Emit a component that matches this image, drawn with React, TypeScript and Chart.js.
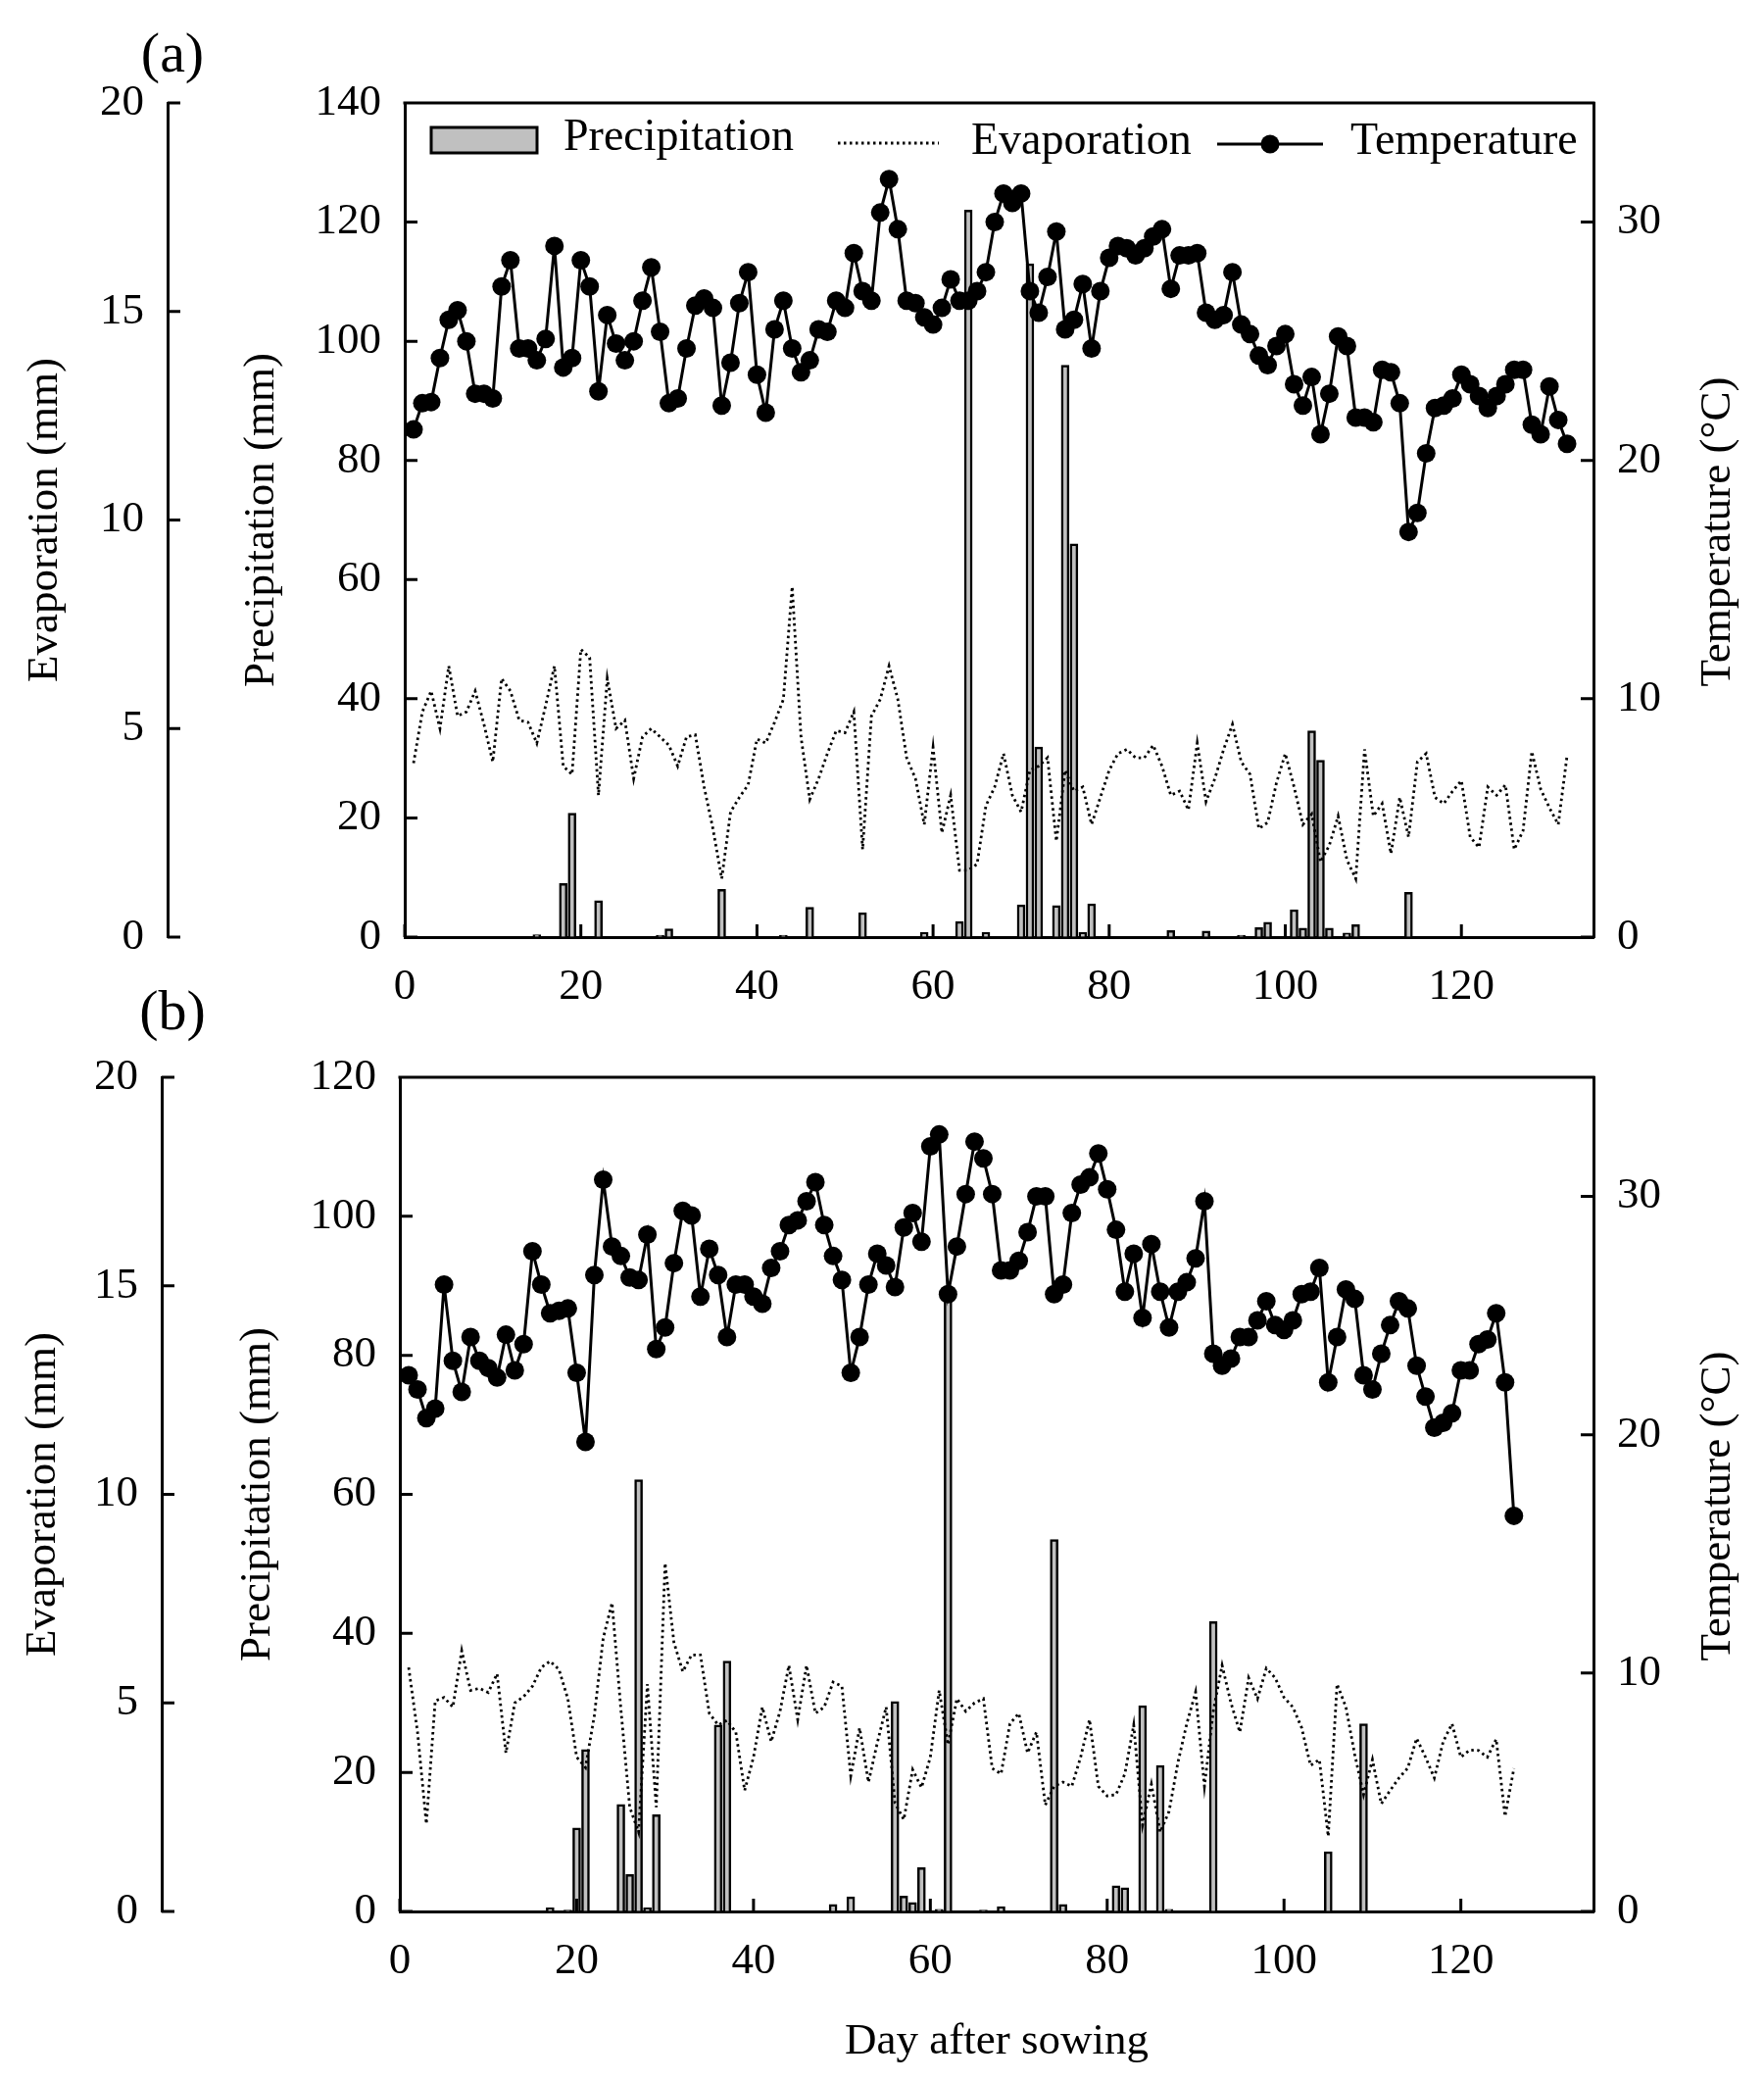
import { useEffect, useRef } from 'react';
import { Chart, registerables } from 'chart.js';

Chart.register(...registerables);

const SERIF = '"Liberation Serif", "Times New Roman", serif';

// ---- panel (a) ----
const tempA = [
  21.3, 22.4, 22.45, 24.3, 25.9, 26.3, 25.0, 22.8, 22.8, 22.6,
  27.3, 28.4, 24.7, 24.7, 24.2, 25.1, 29.0, 23.9, 24.3, 28.4,
  27.3, 22.9, 26.1, 24.9, 24.2, 25.0, 26.7, 28.1, 25.4, 22.4,
  22.6, 24.7, 26.5, 26.8, 26.4, 22.3, 24.1, 26.6, 27.9, 23.6,
  22.0, 25.5, 26.7, 24.7, 23.7, 24.2, 25.5, 25.4, 26.7, 26.4,
  28.7, 27.1, 26.7, 30.4, 31.8, 29.7, 26.7, 26.6, 26.0, 25.7,
  26.4, 27.6, 26.7, 26.7, 27.1, 27.9, 30.0, 31.2, 30.8, 31.2,
  27.1, 26.2, 27.7, 29.6, 25.5, 25.9, 27.4, 24.7, 27.1, 28.5,
  29.0, 28.9, 28.6, 28.9, 29.4, 29.7, 27.2, 28.6, 28.6, 28.7,
  26.2, 25.9, 26.1, 27.9, 25.7, 25.3, 24.4, 24.0, 24.8, 25.3,
  23.2, 22.3, 23.5, 21.1, 22.8, 25.2, 24.8, 21.8, 21.8, 21.6,
  23.8, 23.7, 22.4, 17.0, 17.8, 20.3, 22.2, 22.3, 22.6, 23.6,
  23.2, 22.7, 22.2, 22.7, 23.2, 23.8, 23.8, 21.5, 21.1, 23.1,
  21.7, 20.7,
];
const evapA = [
  4.17, 5.4, 5.9, 5.0, 6.5, 5.3, 5.4, 5.9, 5.1, 4.2,
  6.2, 5.9, 5.2, 5.15, 4.65, 5.55, 6.5, 4.1, 3.9, 6.9,
  6.7, 3.4, 6.2, 5.0, 5.2, 3.8, 4.8, 5.0, 4.8, 4.6,
  4.1, 4.8, 4.85, 3.6, 2.6, 1.4, 3.0, 3.35, 3.65, 4.75,
  4.65, 5.15, 5.7, 8.4, 4.8, 3.3, 3.8, 4.4, 4.95, 4.9,
  5.4, 2.1, 5.3, 5.7, 6.5, 5.7, 4.3, 3.8, 2.7, 4.55,
  2.5, 3.4, 1.6, 1.6, 1.75, 3.15, 3.6, 4.4, 3.4, 3.0,
  4.0, 4.1, 4.3, 2.3, 4.0, 3.5, 3.6, 2.7, 3.35, 4.0,
  4.4, 4.5, 4.3, 4.3, 4.6, 4.1, 3.4, 3.5, 3.05, 4.65,
  3.25, 3.8, 4.5, 5.1, 4.2, 3.9, 2.6, 2.75, 3.7, 4.4,
  3.6, 2.7, 2.95, 1.8, 2.2, 2.9, 1.85, 1.4, 4.5, 2.9,
  3.2, 2.0, 3.35, 2.4, 4.2, 4.4, 3.35, 3.2, 3.5, 3.75,
  2.4, 2.15, 3.6, 3.4, 3.65, 2.1, 2.55, 4.45, 3.55, 3.1,
  2.7, 4.35,
];
const rainDaysA = [
  15, 18, 19, 22, 29, 30, 36, 43, 46, 52, 59, 63, 64, 66, 70, 71, 72, 74,
  75, 76, 77, 78, 87, 91, 95, 97, 98, 101, 102, 103, 104, 105, 107, 108, 114,
];
const rainA = [
  0.4, 9.0, 20.8, 6.1, 0.3, 1.4, 8.0, 0.3, 5.0, 4.1, 0.8, 2.6, 122, 0.8, 5.4, 113, 31.9, 5.3,
  96, 66, 0.8, 5.6, 1.1, 1.0, 0.3, 1.6, 2.5, 4.6, 1.5, 34.6, 29.7, 1.5, 0.7, 2.1, 7.5,
];

// ---- panel (b) ----
const tempB = [
  22.5, 21.9, 20.7, 21.1, 26.3, 23.1, 21.8, 24.1, 23.1, 22.8,
  22.4, 24.2, 22.7, 23.8, 27.7, 26.3, 25.1, 25.2, 25.3, 22.6,
  19.7, 26.7, 30.7, 27.9, 27.5, 26.6, 26.5, 28.4, 23.6, 24.5,
  27.2, 29.4, 29.2, 25.8, 27.8, 26.7, 24.1, 26.3, 26.3, 25.8,
  25.5, 27.0, 27.7, 28.8, 29.0, 29.8, 30.6, 28.8, 27.5, 26.5,
  22.6, 24.1, 26.3, 27.6, 27.1, 26.2, 28.7, 29.3, 28.1, 32.1,
  32.6, 25.9, 27.9, 30.1, 32.3, 31.6, 30.1, 26.9, 26.9, 27.3,
  28.5, 30.0, 30.0, 25.9, 26.3, 29.3, 30.5, 30.8, 31.8, 30.3,
  28.6, 26.0, 27.6, 24.9, 28.0, 26.0, 24.5, 26.0, 26.4, 27.4,
  29.8, 23.4, 22.9, 23.2, 24.1, 24.1, 24.8, 25.6, 24.6, 24.4,
  24.8, 25.9, 26.0, 27.0, 22.2, 24.1, 26.1, 25.7, 22.5, 21.9,
  23.4, 24.6, 25.6, 25.3, 22.9, 21.6, 20.3, 20.5, 20.9, 22.7,
  22.7, 23.8, 24.0, 25.1, 22.2, 16.6,
];
const evapB = [
  5.85, 4.3, 2.1, 5.05, 5.13, 4.9, 6.25, 5.3, 5.35, 5.25,
  5.7, 3.8, 5.0, 5.15, 5.4, 5.85, 6.0, 5.8, 5.1, 3.7,
  3.45, 4.7, 6.55, 7.4, 4.85, 2.5, 1.9, 5.45, 2.5, 8.35,
  6.45, 5.75, 6.15, 6.15, 4.75, 4.47, 4.58, 4.3, 2.9, 3.7,
  4.9, 4.07, 4.8, 5.9, 4.6, 5.9, 4.75, 4.9, 5.5, 5.4,
  3.25, 4.4, 3.1, 4.04, 4.9, 2.6, 2.2, 3.4, 2.97, 3.7,
  5.3, 4.0, 5.1, 4.8, 5.0, 5.1, 3.43, 3.3, 4.5, 4.75,
  3.8, 4.3, 2.55, 3.0, 3.1, 3.0, 3.7, 4.6, 3.0, 2.77,
  2.8, 3.3, 4.47, 2.07, 3.05, 1.9, 2.4, 3.57, 4.5, 5.26,
  3.0, 4.8, 5.9, 5.0, 4.3, 5.6, 5.1, 5.83, 5.6, 5.13,
  4.9, 4.4, 3.5, 3.64, 1.8, 5.45, 4.9, 3.76, 2.8, 3.64,
  2.58, 2.9, 3.2, 3.44, 4.15, 3.7, 3.2, 4.07, 4.5, 3.7,
  3.87, 3.86, 3.7, 4.13, 2.28, 3.43,
];
const rainDaysB = [
  17, 19, 20, 21, 25, 26, 27, 28, 29, 36, 37, 49, 51, 56, 57, 58,
  59, 61, 62, 66, 68, 74, 75, 81, 82, 84, 86, 87, 92, 105, 109,
];
const rainB = [
  0.5, 0.2, 12.0, 23.3, 15.4, 5.3, 62.1, 0.5, 13.9, 26.8, 36.0, 1.0, 2.1, 30.2, 2.2, 1.3,
  6.3, 0.3, 88.9, 0.2, 0.7, 53.5, 1.0, 3.7, 3.4, 29.6, 21.0, 0.3, 41.7, 8.6, 27.0,
];

const DAY_MAX = 135;
const TEMP_MAX = 35;
const EVAP_MAX = 20;

interface Layout {
  height: number;
  padTop: number;
  xHeight: number;
  evapWidth: number;
  rainWidth: number;
  rainMax: number;
  rainTitlePad: number;
  evapTitlePad: number;
  xTitle: boolean;
  legend: boolean;
}

const layoutA: Layout = {
  height: 1040, padTop: 105, xHeight: 84, evapWidth: 171, rainWidth: 242,
  rainMax: 140, rainTitlePad: 74, evapTitlePad: 24, xTitle: false, legend: true,
};
const layoutB: Layout = {
  height: 1084, padTop: 59, xHeight: 174, evapWidth: 165, rainWidth: 243,
  rainMax: 120, rainTitlePad: 76, evapTitlePad: 22, xTitle: true, legend: false,
};

// inward ticks, top frame line, right-hand title and the inset legend
const framePlugin = {
  id: 'frame',
  afterDraw(chart: any, _args: any, opts: any) {
    const { ctx, chartArea: a, scales } = chart;
    const L = 13;
    ctx.save();
    ctx.strokeStyle = '#000';
    ctx.lineWidth = 3;
    ctx.beginPath();
    ctx.moveTo(a.left - 1.5, a.top);
    ctx.lineTo(a.right + 1.5, a.top);
    for (const t of scales.x.ticks) {
      const p = scales.x.getPixelForValue(t.value);
      ctx.moveTo(p, a.bottom);
      ctx.lineTo(p, a.bottom - L);
    }
    for (const t of scales.yP.ticks) {
      const p = scales.yP.getPixelForValue(t.value);
      ctx.moveTo(a.left, p);
      ctx.lineTo(a.left + L, p);
    }
    for (const t of scales.yT.ticks) {
      const p = scales.yT.getPixelForValue(t.value);
      ctx.moveTo(a.right, p);
      ctx.lineTo(a.right - L, p);
    }
    const ex = scales.yE.right;
    for (const t of scales.yE.ticks) {
      const p = scales.yE.getPixelForValue(t.value);
      ctx.moveTo(ex, p);
      ctx.lineTo(ex + L, p);
    }
    ctx.stroke();

    ctx.fillStyle = '#000';
    ctx.font = `45px ${SERIF}`;
    ctx.textAlign = 'center';
    ctx.textBaseline = 'middle';
    ctx.save();
    ctx.translate(1753, (a.top + a.bottom) / 2 + 12);
    ctx.rotate(-Math.PI / 2);
    ctx.fillText('Temperature (\u00B0C)', 0, 0);
    ctx.restore();

    if (opts.legend) {
      const ds = chart.data.datasets;
      const lx = a.left;
      const ly = a.top;
      ctx.font = `46px ${SERIF}`;
      ctx.textAlign = 'left';
      // precipitation
      ctx.fillStyle = '#c0c0c0';
      ctx.fillRect(lx + 27, ly + 25, 108, 26);
      ctx.lineWidth = 3;
      ctx.strokeRect(lx + 27, ly + 25, 108, 26);
      ctx.fillStyle = '#000';
      ctx.fillText(ds[2].label, lx + 162, ly + 36);
      // evaporation
      ctx.lineWidth = 2.8;
      ctx.setLineDash([2.5, 3.5]);
      ctx.beginPath();
      ctx.moveTo(lx + 442, ly + 41);
      ctx.lineTo(lx + 545, ly + 41);
      ctx.stroke();
      ctx.setLineDash([]);
      ctx.fillText(ds[1].label, lx + 578, ly + 40);
      // temperature
      ctx.lineWidth = 3;
      ctx.beginPath();
      ctx.moveTo(lx + 829, ly + 42);
      ctx.lineTo(lx + 937, ly + 42);
      ctx.stroke();
      ctx.beginPath();
      ctx.arc(lx + 883, ly + 42, 9.5, 0, Math.PI * 2);
      ctx.fill();
      ctx.fillText(ds[0].label, lx + 965, ly + 40);
    }
    ctx.restore();
  },
};

function buildConfig(temp: number[], evap: number[], rainDays: number[], rain: number[], lay: Layout): any {
  const daily = (vals: number[]) => vals.map((v, i) => ({ x: i + 1, y: v }));
  const rainPts = rainDays.map((d, i) => ({ x: d, y: rain[i] }));
  const tickFont = { family: SERIF, size: 45 };
  const titleFont = { family: SERIF, size: 45, lineHeight: 1 };
  const keep = (step: number) => (scale: any) => {
    scale.ticks = scale.ticks.filter((t: any) => t.value % step === 0);
  };
  const border = { color: '#000', width: 3 };
  const noGrid = { drawOnChartArea: false, drawTicks: false };

  return {
    type: 'bar',
    data: {
      datasets: [
        {
          type: 'line', label: 'Temperature', data: daily(temp), yAxisID: 'yT',
          borderColor: '#000', borderWidth: 3, pointRadius: 9.5,
          pointBackgroundColor: '#000', pointBorderColor: '#000', pointBorderWidth: 0,
          tension: 0, order: 0,
        },
        {
          type: 'line', label: 'Evaporation', data: daily(evap), yAxisID: 'yE',
          borderColor: '#000', borderWidth: 2.8, borderDash: [2.5, 3.5],
          pointRadius: 0, tension: 0, order: 1,
        },
        {
          type: 'bar', label: 'Precipitation', data: rainPts, yAxisID: 'yP',
          backgroundColor: '#c0c0c0', borderColor: '#000', borderWidth: 2.5,
          barThickness: 8, order: 2,
        },
      ],
    },
    options: {
      responsive: false,
      animation: false,
      devicePixelRatio: 1,
      layout: { padding: { top: lay.padTop, left: 0, right: 0, bottom: 0 } },
      plugins: {
        legend: { display: false },
        tooltip: { enabled: false },
        frame: { legend: lay.legend },
      },
      scales: {
        x: {
          type: 'linear', position: 'bottom', min: 0, max: DAY_MAX, offset: false,
          grid: { ...noGrid, offset: false }, border,
          ticks: { stepSize: 20, font: tickFont, color: '#000', padding: 24, maxRotation: 0 },
          afterBuildTicks: keep(20),
          afterFit: (s: any) => { s.height = lay.xHeight; },
          title: {
            display: lay.xTitle, text: 'Day after sowing', font: titleFont, color: '#000',
            padding: { top: 0, bottom: 18 },
          },
        },
        yP: {
          type: 'linear', position: 'left', min: 0, max: lay.rainMax, weight: 0,
          grid: noGrid, border,
          ticks: { stepSize: 20, font: tickFont, color: '#000', padding: 24 },
          afterFit: (s: any) => { s.width = lay.rainWidth; },
          title: {
            display: true, text: 'Precipitation (mm)', font: titleFont, color: '#000',
            padding: { top: lay.rainTitlePad, bottom: 0 },
          },
        },
        yE: {
          type: 'linear', position: 'left', min: 0, max: EVAP_MAX, weight: 1,
          grid: noGrid, border,
          ticks: { stepSize: 5, font: tickFont, color: '#000', padding: 24 },
          afterFit: (s: any) => { s.width = lay.evapWidth; },
          title: {
            display: true, text: 'Evaporation (mm)', font: titleFont, color: '#000',
            padding: { top: lay.evapTitlePad, bottom: 0 },
          },
        },
        yT: {
          type: 'linear', position: 'right', min: 0, max: TEMP_MAX,
          grid: noGrid, border,
          ticks: { stepSize: 10, font: tickFont, color: '#000', padding: 24 },
          afterBuildTicks: keep(10),
          afterFit: (s: any) => { s.width = 174; },
        },
      },
    },
    plugins: [framePlugin],
  };
}

function Panel({ build, top, height }: { build: () => any; top: number; height: number }) {
  const canvasRef = useRef<HTMLCanvasElement>(null);

  useEffect(() => {
    if (!canvasRef.current) return;
    const chart = new Chart(canvasRef.current, build());
    return () => chart.destroy();
  }, [build]);

  return (
    <canvas
      ref={canvasRef}
      width={1800}
      height={height}
      style={{ position: 'absolute', left: 0, top, width: 1800, height }}
    />
  );
}

const buildA = () => buildConfig(tempA, evapA, rainDaysA, rainA, layoutA);
const buildB = () => buildConfig(tempB, evapB, rainDaysB, rainB, layoutB);

const panelLabel = (text: string, top: number) => (
  <div
    style={{
      position: 'absolute', left: 176, top, transform: 'translate(-50%, -50%)',
      fontFamily: SERIF, fontSize: 58, lineHeight: 1, color: '#000',
    }}
  >
    {text}
  </div>
);

export default function App() {
  return (
    <div style={{ position: 'absolute', left: 0, top: 0, width: 1800, height: 2124, background: '#fff' }}>
      <Panel build={buildA} top={0} height={layoutA.height} />
      <Panel build={buildB} top={1040} height={layoutB.height} />
      {panelLabel('(a)', 54)}
      {panelLabel('(b)', 1031)}
    </div>
  );
}
